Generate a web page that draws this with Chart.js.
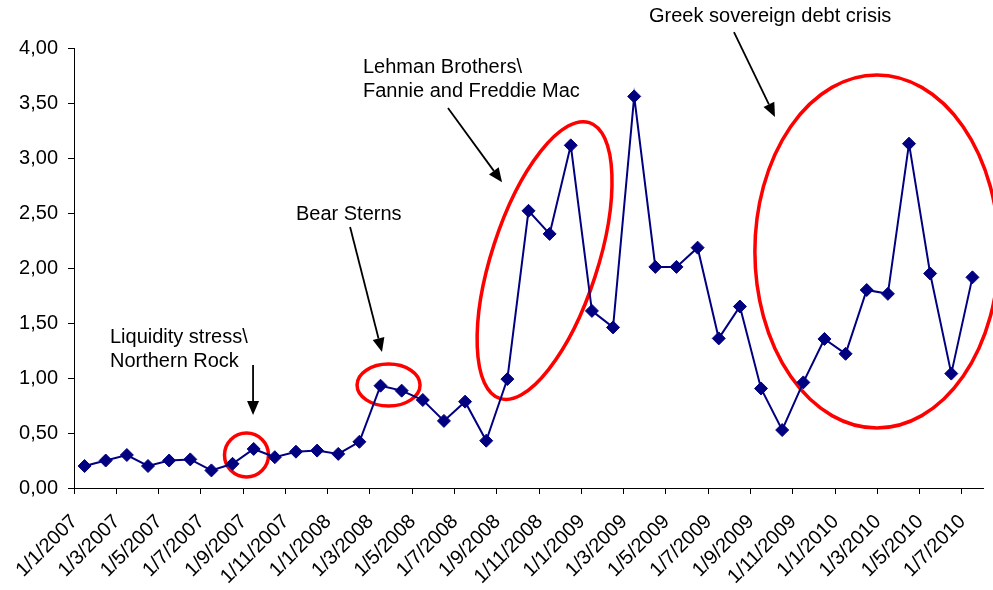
<!DOCTYPE html>
<html>
<head>
<meta charset="utf-8">
<script src="https://cdn.jsdelivr.net/npm/chart.js@4.4.1/dist/chart.umd.min.js"></script>
<style>
  body { margin: 0; background: #fff; }
  #wrap { width: 993px; height: 590px; }
</style>
</head>
<body>
<div id="wrap"><canvas id="chart" width="993" height="590"></canvas></div>
<script>
"use strict";

// one category per month, jan 2007 - jul 2010
const months = [
  "1/1/2007","1/2/2007","1/3/2007","1/4/2007","1/5/2007","1/6/2007","1/7/2007","1/8/2007","1/9/2007","1/10/2007","1/11/2007","1/12/2007",
  "1/1/2008","1/2/2008","1/3/2008","1/4/2008","1/5/2008","1/6/2008","1/7/2008","1/8/2008","1/9/2008","1/10/2008","1/11/2008","1/12/2008",
  "1/1/2009","1/2/2009","1/3/2009","1/4/2009","1/5/2009","1/6/2009","1/7/2009","1/8/2009","1/9/2009","1/10/2009","1/11/2009","1/12/2009",
  "1/1/2010","1/2/2010","1/3/2010","1/4/2010","1/5/2010","1/6/2010","1/7/2010"
];

const values = [
  0.20, 0.25, 0.30, 0.20, 0.25, 0.26, 0.16, 0.22, 0.355, 0.28, 0.33, 0.34,
  0.31, 0.42, 0.93, 0.885, 0.80, 0.61, 0.785, 0.43, 0.99, 2.52, 2.31, 3.115,
  1.61, 1.46, 3.56, 2.01, 2.01, 2.185, 1.36, 1.65, 0.905, 0.527, 0.96, 1.355,
  1.22, 1.80, 1.765, 3.13, 1.95, 1.04, 1.915
];

const yMin = 0, yMax = 4, yStep = 0.5;

// annotations, placed in chart units (category index, value)
// [index, value, rx px, ry px, rotation deg]
const ellipses = [
  [7.66, 0.30, 22, 22, 0],
  [14.38, 0.936, 31.5, 21, 0],
  [21.76, 2.068, 145, 53, -72],
  [37.48, 2.15, 122, 176.5, 0]
];
// [fromIndex, fromValue, toIndex, toValue]
const arrows = [
  [7.97, 1.118, 7.97, 0.664],
  [12.56, 2.373, 14.07, 1.236],
  [17.19, 3.455, 19.75, 2.78],
  [30.72, 4.145, 32.66, 3.373]
];
// [index, value of first baseline, lines]
const notes = [
  [1.20, 1.318, ["Liquidity stress\\", "Northern Rock"]],
  [10.0, 2.436, ["Bear Sterns"]],
  [13.17, 3.773, ["Lehman Brothers\\", "Fannie and Freddie Mac"]],
  [26.7, 4.236, ["Greek sovereign debt crisis"]]
];

const FONT = "'Liberation Sans', Arial, sans-serif";
Chart.defaults.font.family = FONT;
Chart.defaults.color = "#000";

// position helper, category index can be fractional
const px = (chart, i) => {
  const x = chart.scales.x;
  const a = x.getPixelForValue(0), b = x.getPixelForValue(1);
  return a + (b - a) * i;
};
const py = (chart, v) => chart.scales.y.getPixelForValue(v);

const notesPlugin = {
  id: "notes",
  beforeDatasetsDraw(chart) {
    const ctx = chart.ctx;
    ctx.save();
    // red rings
    ctx.strokeStyle = "#ff0000";
    ctx.lineWidth = 3.5;
    ellipses.forEach(e => {
      ctx.beginPath();
      ctx.ellipse(px(chart, e[0]), py(chart, e[1]), e[2], e[3], e[4] * Math.PI / 180, 0, Math.PI * 2);
      ctx.stroke();
    });
    // arrows
    ctx.strokeStyle = "#000";
    ctx.fillStyle = "#000";
    ctx.lineWidth = 1.8;
    arrows.forEach(a => {
      const x1 = px(chart, a[0]), y1 = py(chart, a[1]);
      const x2 = px(chart, a[2]), y2 = py(chart, a[3]);
      const ang = Math.atan2(y2 - y1, x2 - x1);
      const len = 14, half = 6;
      const bx = x2 - Math.cos(ang) * len, by = y2 - Math.sin(ang) * len;
      ctx.beginPath();
      ctx.moveTo(x1, y1);
      ctx.lineTo(bx, by);
      ctx.stroke();
      ctx.beginPath();
      ctx.moveTo(x2, y2);
      ctx.lineTo(bx + Math.sin(ang) * half, by - Math.cos(ang) * half);
      ctx.lineTo(bx - Math.sin(ang) * half, by + Math.cos(ang) * half);
      ctx.closePath();
      ctx.fill();
    });
    // labels
    ctx.font = "20px " + FONT;
    ctx.textAlign = "left";
    ctx.textBaseline = "alphabetic";
    notes.forEach(n => {
      n[2].forEach((t, k) => {
        ctx.fillText(t, px(chart, n[0]), py(chart, n[1]) + k * 24);
      });
    });
    ctx.restore();
  }
};

new Chart(document.getElementById("chart"), {
  type: "line",
  data: {
    labels: months,
    datasets: [{
      data: values,
      borderColor: "#000080",
      backgroundColor: "#000080",
      borderWidth: 2,
      pointStyle: "rectRot",
      pointRadius: 6.5,
      pointBorderWidth: 1,
      pointBackgroundColor: "#000080",
      pointBorderColor: "#000080",
      tension: 0,
      fill: false
    }]
  },
  options: {
    responsive: false,
    animation: false,
    layout: { padding: { left: 0, right: 10, top: 48, bottom: 0 } },
    plugins: {
      legend: { display: false },
      tooltip: { enabled: false }
    },
    scales: {
      x: {
        offset: true,
        grid: {
          offset: true,
          drawOnChartArea: false,
          drawTicks: true,
          tickLength: 6,
          tickWidth: 1,
          // tick mark only every second month
          tickColor: (c) => (c.index % 2 === 0 ? "#000" : "rgba(0,0,0,0)")
        },
        border: { display: true, color: "#000", width: 1 },
        ticks: {
          autoSkip: false,
          maxRotation: 45,
          minRotation: 45,
          padding: 16,
          labelOffset: -10,
          font: { size: 20 },
          color: "#000",
          callback: (v, i) => (i % 2 === 0 ? months[i] : "")
        },
        afterFit: (s) => {
          s.height = 102;
          // the label padding would otherwise shrink the plot on the right
          s.paddingRight = 0;
          s.paddingLeft = 0;
        }
      },
      y: {
        min: yMin,
        max: yMax,
        grid: {
          drawOnChartArea: false,
          drawTicks: true,
          tickLength: 6,
          tickColor: "#000"
        },
        border: { display: true, color: "#000", width: 1 },
        ticks: {
          stepSize: yStep,
          padding: 10,
          font: { size: 20 },
          color: "#000",
          callback: (v) => v.toFixed(2).replace(".", ",")
        },
        afterFit: (s) => { s.width = 74; }
      }
    }
  },
  plugins: [notesPlugin]
});
</script>
</body>
</html>
